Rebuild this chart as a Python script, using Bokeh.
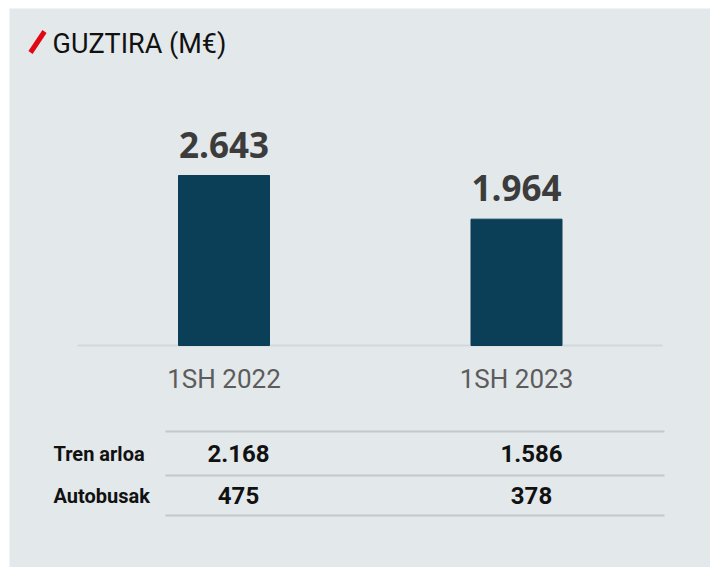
from bokeh.plotting import figure
from bokeh.models import Range1d, ColumnDataSource
from bokeh.core.properties import value
from bokeh.embed import file_html
from bokeh.resources import INLINE

# ---- data ----
categories = ["1SH 2022", "1SH 2023"]
totals = [2643, 1964]
total_labels = ["2.643", "1.964"]
row_names = ["Tren arloa", "Autobusak"]
tren_labels = ["2.168", "1.586"]
bus_labels = ["475", "378"]
title = "GUZTIRA (M€)"

# ---- layout (pixels) ----
W, H = 710, 567
FL, FT = 9, 8                 # frame left / top in the image
CAT0_X, CAT_STEP = 223.5, 292.5   # image x of first bar center, spacing
BASE_Y = 345                  # image y of baseline
KPX = 170 / 2643              # px per unit value

def dx(img_x):
    return (img_x - CAT0_X) / CAT_STEP

def dy(img_y):
    return (BASE_Y - img_y) / KPX

BG = "#e3e8eb"
BAR = "#0a3f57"

p = figure(width=W, height=H, output_backend="svg", toolbar_location=None,
           x_range=Range1d(dx(FL), dx(W)), y_range=Range1d(dy(H), dy(FT)),
           min_border_left=FL, min_border_top=FT, min_border_right=0,
           min_border_bottom=0, background_fill_color=BG, border_fill_color="white",
           outline_line_color=None)
p.axis.visible = False
p.grid.visible = False

xs = list(range(len(categories)))
src = ColumnDataSource(dict(x=xs, top=totals, lab=total_labels, cat=categories))

# baseline
p.segment(x0=[dx(77)], y0=[0], x1=[dx(662)], y1=[0], line_color="#d3d7d9", line_width=2)

# bars
p.vbar(x="x", top="top", bottom=0, width=91 / CAT_STEP, source=src,
       fill_color=BAR, line_color=BAR)

# value labels above bars
p.text(x="x", y="top", text="lab", source=src, y_offset=-18,
       text_font=value("Open Sans"), text_font_style="bold", text_font_size="35px",
       text_color="#3c3c3c", text_align="center", text_baseline="bottom")

# category labels
p.text(x="x", y=dy(378), text="cat", source=src,
       text_font=value("Roboto"), text_font_size="26px",
       text_color="#5c5c5c", text_align="center", text_baseline="middle")

# title
p.segment(x0=[dx(30)], y0=[dy(52)], x1=[dx(44)], y1=[dy(31)],
          line_color="#e30613", line_width=5)
p.text(x=[dx(52)], y=[dy(43)], text=[title], text_font=value("Roboto"),
       text_font_size="27px", text_color="#111111", text_align="left",
       text_baseline="middle")

# table lines
for ly in [431, 475, 515]:
    p.segment(x0=[dx(165)], y0=[dy(ly)], x1=[dx(664)], y1=[dy(ly)],
              line_color="#c4c8ca", line_width=2)

# row labels
for name, ry in zip(row_names, [453, 495]):
    p.text(x=[dx(53)], y=[dy(ry)], text=[name], text_font=value("Roboto"),
           text_font_style="bold", text_font_size="20px", text_color="#111111",
           text_align="left", text_baseline="middle")

# table values
src2 = ColumnDataSource(dict(x=[dx(238), dx(531)], tren=tren_labels, bus=bus_labels))
p.text(x="x", y=dy(453), text="tren", source=src2, text_font=value("Roboto"),
       text_font_style="bold", text_font_size="24px", text_color="#111111",
       text_align="center", text_baseline="middle")
p.text(x="x", y=dy(495), text="bus", source=src2, text_font=value("Roboto"),
       text_font_style="bold", text_font_size="24px", text_color="#111111",
       text_align="center", text_baseline="middle")

open("out.html", "w").write(file_html(p, INLINE))
